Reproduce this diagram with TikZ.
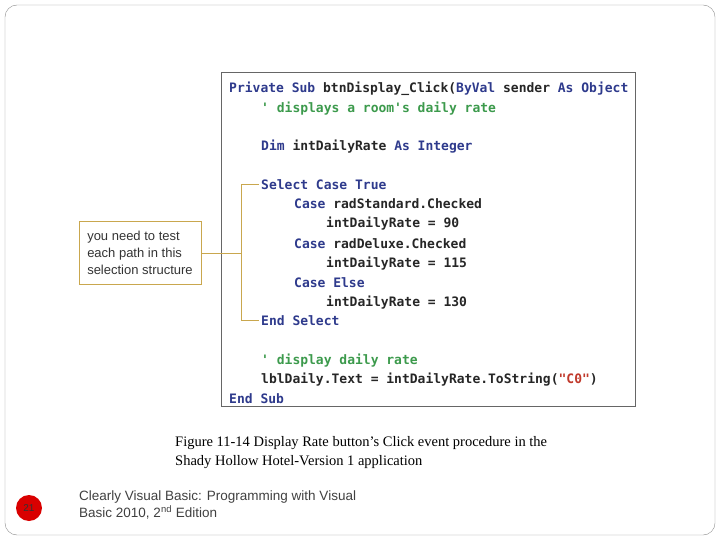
\documentclass[tikz,border=0pt]{standalone}
\usepackage{fontspec}
\setmainfont{Liberation Serif}
\setsansfont{Liberation Sans}
\setmonofont{DejaVu Sans Mono}
\usetikzlibrary{positioning}
\definecolor{kwblue}{HTML}{2E3A8C}
\definecolor{cmgreen}{HTML}{3C9A4C}
\definecolor{strred}{HTML}{C0392B}
\definecolor{callgold}{HTML}{C9A74E}
\newcommand{\kw}[1]{\textcolor{kwblue}{#1}}
\newcommand{\cm}[1]{\textcolor{cmgreen}{#1}}
\newcommand{\str}[1]{\textcolor{strred}{#1}}
\begin{document}
\begin{tikzpicture}[x=1pt,y=-1pt,
    code/.style={anchor=base west,inner sep=0pt,font=\ttfamily\bfseries\fontsize{13}{15}\selectfont,text=black!85},
    bracket/.style={draw=callgold,line width=1pt}]
\useasboundingbox (0,0) rectangle (720,540);
\draw[black!45,rounded corners=12pt] (5,5) rectangle (715,535);
% code listing
\node[draw=black!60,minimum width=414pt,minimum height=334pt,anchor=north west,inner sep=0pt] (listing) at (221,72) {};
\begin{scope}
\clip (221,72) rectangle (635,406);
\node[code] (l1) at (229,93) {\kw{Private Sub} btnDisplay\_Click(\kw{ByVal} sender \kw{As} \kw{Object}};
\node[code] (l2) at (261,113) {\cm{' displays a room's daily rate}};
\node[code] (l3) at (261,151) {\kw{Dim} intDailyRate \kw{As} \kw{Integer}};
\node[code] (l4) at (261,190) {\kw{Select Case True}};
\node[code] (l5) at (294,209) {\kw{Case} radStandard.Checked};
\node[code] (l6) at (326,228) {intDailyRate = 90};
\node[code] (l7) at (294,248) {\kw{Case} radDeluxe.Checked};
\node[code] (l8) at (326,267) {intDailyRate = 115};
\node[code] (l9) at (294,287) {\kw{Case Else}};
\node[code] (l10) at (326,306) {intDailyRate = 130};
\node[code] (l11) at (261,325) {\kw{End Select}};
\node[code] (l12) at (261,364) {\cm{' display daily rate}};
\node[code] (l13) at (261,383) {lblDaily.Text = intDailyRate.ToString(\str{"C0"})};
\node[code] (l14) at (229,403) {\kw{End Sub}};
\end{scope}
% callout
\node[draw=callgold,line width=1pt,align=left,inner sep=4pt,minimum width=122pt,minimum height=62pt,
      font=\sffamily\fontsize{13}{17}\selectfont,text=black!80] (note) at (140,253)
      {you need to test\\each path in this\\selection structure};
\coordinate (top) at (241,185);
\coordinate (bot) at (241,320);
\draw[bracket] (l4.west |- top) ++(-2,0) -- (top) -- (bot) -- ([xshift=-2pt]l11.west |- bot);
\draw[bracket] (note.east) -- (note.east -| top);
% caption
\node[anchor=north west,inner sep=0pt,align=left,font=\fontsize{14.5}{19}\selectfont] (caption) at (175,436)
  {Figure 11-14 Display Rate button’s Click event procedure in the\\Shady Hollow Hotel-Version 1 application};
% footer
\node[circle,fill=red!85!black,minimum size=26pt,inner sep=0pt,text=black!80,font=\sffamily\fontsize{10}{12}\selectfont] (page) at (29,508) {21};
\node[anchor=west,align=left,inner sep=0pt,text=black!75,font=\sffamily\fontsize{13.5}{17}\selectfont] (footer) at (79,505)
  {Clearly Visual Basic: Programming with Visual\\Basic 2010, 2\textsuperscript{nd} Edition};
\end{tikzpicture}
\end{document}
